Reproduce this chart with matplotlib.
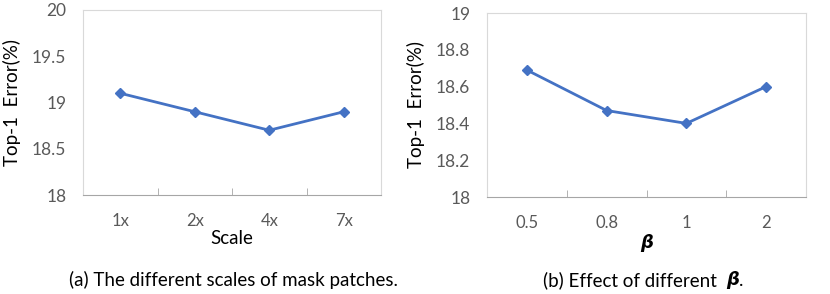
import matplotlib
matplotlib.use("Agg")
import matplotlib.pyplot as plt

plt.rcParams['font.family'] = ['Lato', 'DejaVu Sans']

# data
scale_labels = ['1x', '2x', '4x', '7x']
scale_err = [19.1, 18.9, 18.7, 18.9]

beta_labels = ['0.5', '0.8', '1', '2']
beta_err = [18.69, 18.47, 18.40, 18.60]

W, H = 830, 294
line_col = '#4472C4'
tick_col = '#595959'


def style_axes(ax, labels, yticks):
    x = range(len(labels))
    ax.set_xlim(-0.5, len(labels) - 0.5)
    ax.set_xticks(list(x))
    ax.set_xticklabels(labels)
    ax.set_xticks([i + 0.5 for i in range(len(labels) - 1)], minor=True)
    ax.tick_params(axis='x', which='major', length=0, pad=13, labelsize=12, labelcolor=tick_col)
    ax.tick_params(axis='x', which='minor', direction='in', length=5, color='#A6A6A6')
    ax.set_ylim(yticks[0], yticks[-1])
    ax.set_yticks(yticks)
    ax.tick_params(axis='y', length=0, pad=12, labelsize=12.5, labelcolor=tick_col)
    for s in ['top', 'left', 'right']:
        ax.spines[s].set_color('#D9D9D9')
    ax.spines['bottom'].set_color('#A6A6A6')
    ax.set_ylabel('Top-1  Error(%)', fontsize=13.5, color='black', labelpad=8)


fig = plt.figure(figsize=(W / 100, H / 100), dpi=100)

ax1 = fig.add_axes([83 / W, 1 - 195 / H, 298 / W, 185 / H])
ax1.plot(range(len(scale_err)), scale_err, color=line_col, lw=2, marker='D', ms=5)
style_axes(ax1, scale_labels, [18, 18.5, 19, 19.5, 20])
ax1.set_yticklabels(['18', '18.5', '19', '19.5', '20'])
ax1.set_xlabel('Scale', fontsize=13.5, labelpad=1)

ax2 = fig.add_axes([487 / W, 1 - 197 / H, 319 / W, 184 / H])
ax2.plot(range(len(beta_err)), beta_err, color=line_col, lw=2, marker='D', ms=5)
style_axes(ax2, beta_labels, [18, 18.2, 18.4, 18.6, 18.8, 19])
ax2.set_yticklabels(['18', '18.2', '18.4', '18.6', '18.8', '19'])
ax2.set_xlabel('β', fontsize=13, labelpad=2, family='DejaVu Sans',
               fontweight='bold', style='italic')

fig.text(233 / W, 1 - 280 / H, '(a) The different scales of mask patches.',
         ha='center', va='center', fontsize=13.5)
fig.text(543 / W, 1 - 280 / H, '(b) Effect of different',
         ha='left', va='center', fontsize=13.5)
fig.text(726 / W, 1 - 280 / H, 'β', ha='left', va='center', fontsize=13,
         family='DejaVu Sans', fontweight='bold', style='italic')
fig.text(739 / W, 1 - 280 / H, '.', ha='left', va='center', fontsize=13.5)

fig.savefig('out.png', dpi=100)
